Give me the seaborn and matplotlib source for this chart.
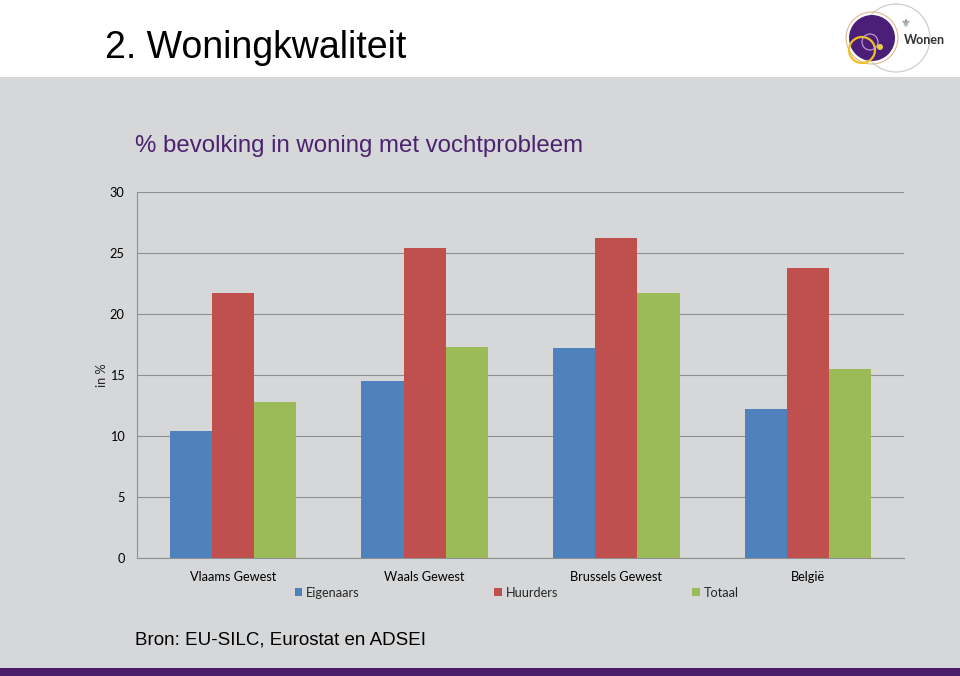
import numpy as np
import pandas as pd
import seaborn as sns
import matplotlib.pyplot as plt
from matplotlib.patches import Rectangle, Circle

regions = ["Vlaams Gewest", "Waals Gewest", "Brussels Gewest", "België"]
groups = ["Eigenaars", "Huurders", "Totaal"]
eigenaars = [10.4, 14.5, 17.2, 12.2]
huurders = [21.7, 25.4, 26.2, 23.8]
totaal = [12.8, 17.3, 21.7, 15.5]
colors = ["#4f81bd", "#c0504d", "#9bbb59"]

df = pd.DataFrame({
    "regio": regions * 3,
    "groep": [g for g in groups for _ in regions],
    "waarde": eigenaars + huurders + totaal,
})

sns.set_theme(style="white")
plt.rcParams["font.family"] = ["Liberation Sans", "DejaVu Sans"]
tick_font = "Lato"

fig = plt.figure(figsize=(9.6, 6.76), dpi=100)
fig.patch.set_facecolor("white")

# gray slide panel + purple bar at the bottom
fig.add_artist(Rectangle((0, 0.0118), 1, 0.886 - 0.0118, transform=fig.transFigure,
                         facecolor="#d6d7d9", edgecolor="none", zorder=-10))
fig.add_artist(Rectangle((0, 0), 1, 0.0118, transform=fig.transFigure,
                         facecolor="#4a1c6a", edgecolor="none", zorder=-10))

fig.text(105 / 960, 1 - 48 / 676, "2. Woningkwaliteit", fontsize=27, va="center",
         ha="left", color="black")
fig.text(135 / 960, 1 - 146 / 676, "% bevolking in woning met vochtprobleem",
         fontsize=17.3, va="center", ha="left", color="#4b2270")
fig.text(135 / 960, 1 - 640 / 676, "Bron: EU-SILC, Eurostat en ADSEI",
         fontsize=13.5, va="center", ha="left", color="black")

# small logo top right
lax = fig.add_axes([828 / 960, 1 - 74 / 676, 132 / 960, 74 / 676])
lax.set_xlim(0, 132)
lax.set_ylim(74, 0)
lax.set_aspect("equal")
lax.axis("off")
lax.add_patch(Circle((68, 38), 34, facecolor="none", edgecolor="#c8c8c8", lw=0.8))
lax.add_patch(Circle((44, 38), 23, facecolor="#4b1e78", edgecolor="none"))
lax.add_patch(Circle((44, 38), 26, facecolor="none", edgecolor="#e0b890", lw=0.8))
lax.add_patch(Circle((34, 50), 13, facecolor="none", edgecolor="#f0c020", lw=1.6))
lax.add_patch(Circle((42, 42), 8, facecolor="none", edgecolor="#c9a6e0", lw=0.8))
lax.add_patch(Circle((52, 47), 3, facecolor="#e8d040", edgecolor="none"))
lax.text(78, 24, "⚜", fontsize=8, color="#666666", ha="center", va="center")
lax.text(96, 40, "Wonen", fontsize=9, fontweight="bold", color="#333333",
         ha="center", va="center", family=tick_font)

ax = fig.add_axes([137 / 960, 1 - 558 / 676, 767 / 960, 366 / 676])
ax.set_facecolor("none")
sns.barplot(data=df, x="regio", y="waarde", hue="groep", palette=colors,
            width=0.66, gap=0, saturation=1, linewidth=0, ax=ax, zorder=3)

ax.set_ylim(0, 30)
ax.set_yticks(np.arange(0, 31, 5))
ax.set_xlim(-0.5, 3.5)
ax.yaxis.grid(True, color="#8f8f8f", lw=0.8, zorder=0)
ax.set_axisbelow(True)
for s in ["top", "right"]:
    ax.spines[s].set_visible(False)
for s in ["left", "bottom"]:
    ax.spines[s].set_color("#8f8f8f")
    ax.spines[s].set_linewidth(0.8)

ax.set_xticks(np.arange(-0.5, 4, 1), minor=True)
ax.tick_params(axis="x", which="major", length=0, pad=9.5)
ax.tick_params(axis="x", which="minor", length=5, color="#8f8f8f", width=0.8)
ax.tick_params(axis="y", length=5, color="#8f8f8f", width=0.8, pad=4)
for lbl in ax.get_xticklabels() + ax.get_yticklabels():
    lbl.set_fontfamily(tick_font)
    lbl.set_fontsize(9.2)
    lbl.set_color("black")

ax.set_xlabel("")
ax.set_ylabel("in %", fontsize=9.2, family=tick_font, labelpad=1)

ax.legend(loc="upper center", bbox_to_anchor=(0.495, -0.047), ncol=3, frameon=False,
          handlelength=0.6, handleheight=0.6, handletextpad=0.3, columnspacing=10.5,
          prop={"family": tick_font, "size": 9.2})

fig.savefig("out.png", dpi=100)
